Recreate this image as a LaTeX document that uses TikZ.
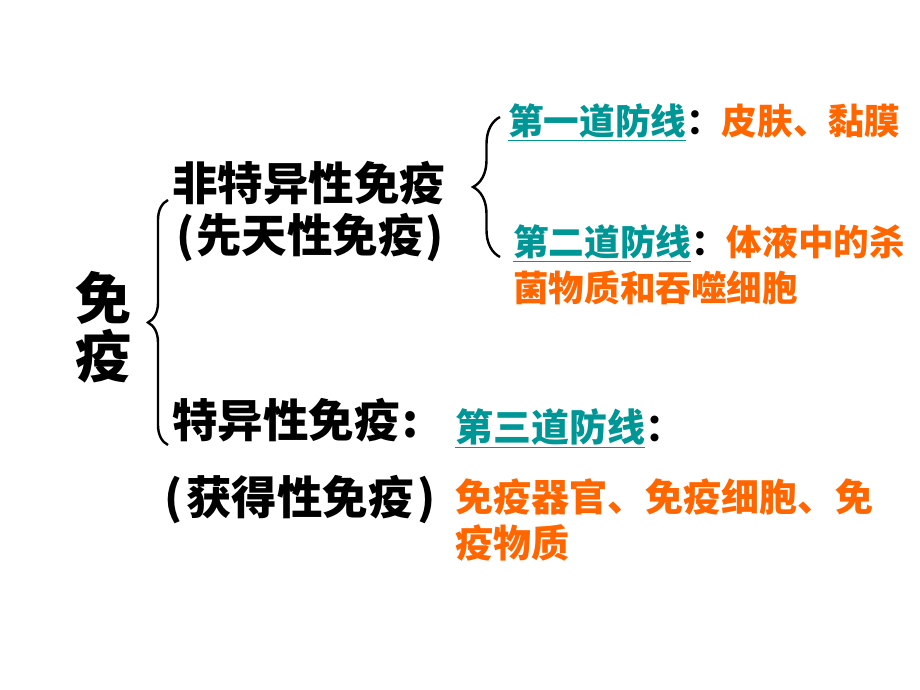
\documentclass[tikz,border=0pt]{standalone}
\usepackage{fontspec}
\newfontfamily\cjk{Noto Sans CJK SC}
\usepackage{xcolor}
\usetikzlibrary{decorations.pathreplacing,positioning}
\definecolor{linegreen}{RGB}{0,150,150}
\definecolor{partorange}{RGB}{255,102,0}

\begin{document}
\begin{tikzpicture}[x=1pt,y=-1pt,
	head/.style={inner sep=0pt,font=\cjk\bfseries\fontsize{56}{60}\selectfont},
	kind/.style={inner sep=0pt,anchor=west,font=\cjk\bfseries\fontsize{45.5}{50}\selectfont},
	part/.style={inner sep=0pt,anchor=west,font=\cjk\bfseries\fontsize{35.6}{42}\selectfont},
	partb/.style={part,font=\cjk\bfseries\fontsize{38}{42}\selectfont},
	curly/.style={line width=2.4pt,decorate,decoration={brace,amplitude=#1}}]
	\useasboundingbox[fill=white] (0,0) rectangle (920,690);
	% left column
	\node[head] (mian) at (103,298) {免};
	\node[head] (yi) at (103,356) {疫};
	\draw[curly=20pt] (168,445) -- (168,200);
	\node[kind] (fei) at (172,183) {非特异性免疫};
	\node[kind] (xiantian) at (176,238) {(\kern2pt 先天性免疫\kern2pt)};
	\node[kind] (teyi) at (172,420) {特异性免疫\kern3pt:};
	\node[kind] (huode) at (164,500) {(\kern4pt 获得性免疫\kern4pt)};
	% lines of defence
	\draw[curly=27pt] (500,257) -- (500,117);
	\node[part] (first) at (508,122) {\color{linegreen}\underline{第一道防线}\color{black}：\color{partorange}皮肤、黏膜};
	\node[part] (second) at (513,243) {\color{linegreen}\underline{第二道防线}\color{black}：\color{partorange}体液中的杀};
	\node[part,text=partorange] (second2) at (513,288) {菌物质和吞噬细胞};
	\node[partb] (third) at (455,428) {\color{linegreen}\underline{第三道防线}\color{black}：};
	\node[partb,text=partorange] (third2) at (455,497) {免疫器官、免疫细胞、免};
	\node[partb,text=partorange] (third3) at (455,543) {疫物质};
\end{tikzpicture}
\end{document}
